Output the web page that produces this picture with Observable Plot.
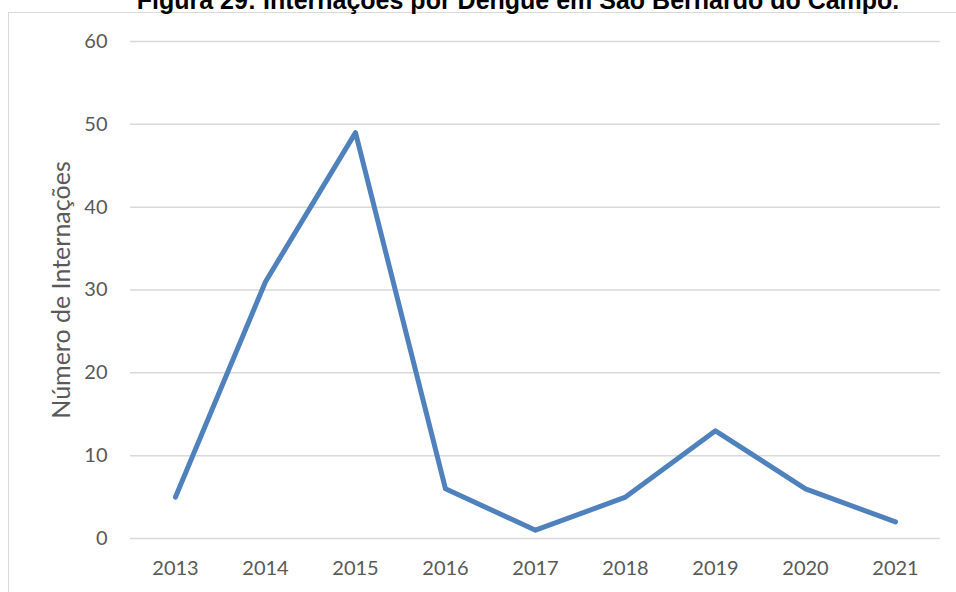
<!DOCTYPE html>
<html>
<head>
<meta charset="utf-8">
<script src="https://cdn.jsdelivr.net/npm/d3@7"></script>
<script src="https://cdn.jsdelivr.net/npm/@observablehq/plot@0.6"></script>
<style>
  html, body { margin: 0; padding: 0; background: #fff; overflow: hidden; }
  #wrap { position: relative; width: 956px; height: 592px; overflow: hidden; }
  #frame { position: absolute; left: 8px; top: 12px; width: 960px; height: 600px; border: 1px solid #d9d9d9; box-sizing: border-box; }
  #title { position: absolute; left: 0; width: 1036px; top: -12.5px; text-align: center; font-family: "Liberation Sans", Arial, sans-serif; font-weight: bold; font-size: 25px; line-height: 25px; color: #000; white-space: nowrap; }
  #chart { position: absolute; left: 0; top: 0; }
  #chart svg [aria-label="y-axis label"] text { font-size: 25px; }
</style>
</head>
<body>
<div id="wrap">
  <div id="frame"></div>
  <div id="title">Figura 29: Internações por Dengue em São Bernardo do Campo.</div>
  <div id="chart"></div>
</div>
<script>
const years = ["2013", "2014", "2015", "2016", "2017", "2018", "2019", "2020", "2021"];
const internacoes = [5, 31, 49, 6, 1, 5, 13, 6, 2];
const yTicks = [0, 10, 20, 30, 40, 50, 60];
const yLabel = "Número de Internações";

const data = years.map((y, i) => ({year: y, value: internacoes[i]}));

const chart = Plot.plot({
  width: 956,
  height: 592,
  marginLeft: 130,
  marginRight: 16,
  marginTop: 41,
  marginBottom: 54,
  style: {fontFamily: "Lato, sans-serif", fontSize: "20px", color: "#595959", background: "transparent"},
  x: {type: "point", domain: years, padding: 0.5},
  y: {domain: [0, 60]},
  marks: [
    Plot.gridY(yTicks, {stroke: "#d9d9d9", strokeOpacity: 1, strokeWidth: 1.5}),
    Plot.axisY(yTicks, {tickSize: 0, tickPadding: 23, label: null, fill: "#595959"}),
    Plot.text([yLabel], {frameAnchor: "left", rotate: -90, dx: -69, fontSize: 25, fill: "#595959", textAnchor: "middle", lineAnchor: "middle"}),
    Plot.axisX(years, {tickSize: 0, tickPadding: 22, label: null, fill: "#595959"}),
    Plot.line(data, {x: "year", y: "value", stroke: "#4f81bd", strokeWidth: 5, strokeLinejoin: "round", strokeLinecap: "round"})
  ]
});
document.getElementById("chart").appendChild(chart);
</script>
</body>
</html>
